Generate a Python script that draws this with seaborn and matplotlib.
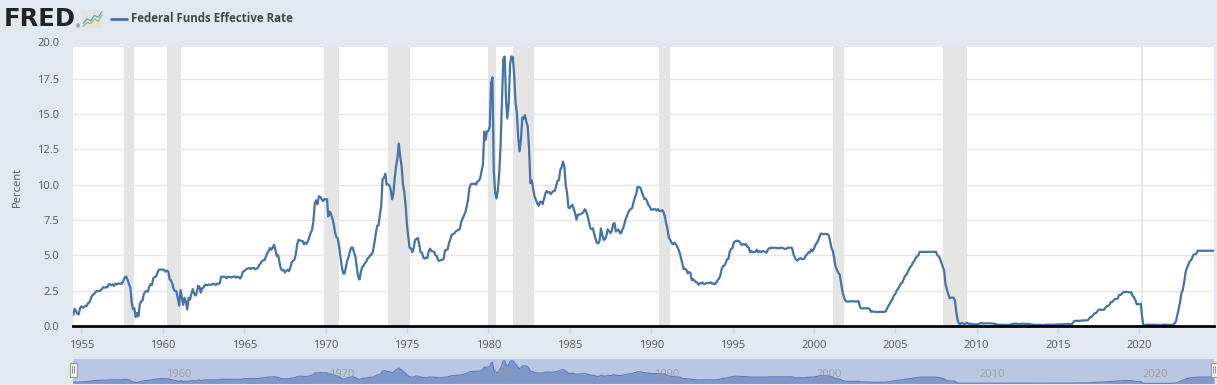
import matplotlib
matplotlib.use("Agg")
import matplotlib.pyplot as plt
import matplotlib.dates as mdates
import matplotlib.transforms as mtransforms
from matplotlib.lines import Line2D
from matplotlib.patches import Rectangle
import seaborn as sns
import pandas as pd

# monthly effective federal funds rate, percent (Jul 1954 - Aug 2024)
rates_1950s = [0.80, 1.22, 1.07, 0.85, 0.83, 1.28,
               1.39, 1.29, 1.35, 1.43, 1.43, 1.64, 1.68, 1.96, 2.18, 2.24, 2.35, 2.48,
               2.45, 2.50, 2.50, 2.62, 2.75, 2.71, 2.75, 2.73, 2.95, 2.96, 2.88, 2.94,
               2.84, 3.00, 2.96, 3.00, 3.00, 3.00, 2.99, 3.24, 3.47, 3.50, 3.28, 2.98,
               2.72, 1.67, 1.20, 1.26, 0.63, 0.93, 0.68, 1.53, 1.76, 1.80, 2.27, 2.42,
               2.48, 2.43, 2.80, 2.96, 2.90, 3.39, 3.47, 3.50, 3.76, 3.98, 4.00, 3.99]
rates_1960s = [3.99, 3.97, 3.84, 3.92, 3.85, 3.32, 3.23, 2.98, 2.60, 2.47, 2.44, 1.98,
               1.45, 2.54, 2.02, 1.49, 1.98, 1.73, 1.17, 2.00, 1.88, 2.26, 2.61, 2.33,
               2.15, 2.37, 2.85, 2.78, 2.36, 2.68, 2.71, 2.93, 2.90, 2.90, 2.94, 2.93,
               2.92, 3.00, 2.98, 2.90, 3.00, 2.99, 3.02, 3.49, 3.48, 3.50, 3.48, 3.38,
               3.48, 3.48, 3.43, 3.47, 3.50, 3.50, 3.42, 3.50, 3.45, 3.36, 3.52, 3.85,
               3.90, 3.98, 4.04, 4.09, 4.10, 4.04, 4.09, 4.12, 4.01, 4.08, 4.10, 4.32,
               4.42, 4.60, 4.65, 4.67, 4.90, 5.17, 5.30, 5.53, 5.40, 5.53, 5.76, 5.40,
               4.94, 5.00, 4.53, 4.05, 3.94, 3.98, 3.79, 3.90, 3.99, 3.88, 4.13, 4.51,
               4.61, 4.71, 5.05, 5.76, 6.11, 6.07, 6.02, 6.03, 5.78, 5.91, 5.82, 6.02,
               6.30, 6.61, 6.79, 7.41, 8.67, 8.90, 8.61, 9.19, 9.15, 9.00, 8.85, 8.97]
rates_1970s = [8.98, 8.98, 7.76, 8.10, 7.95, 7.61, 7.21, 6.61, 6.29, 6.20, 5.60, 4.90,
               4.14, 3.72, 3.71, 4.16, 4.63, 4.91, 5.31, 5.56, 5.55, 5.20, 4.91, 4.14,
               3.50, 3.29, 3.83, 4.17, 4.27, 4.46, 4.55, 4.80, 4.87, 5.04, 5.06, 5.33,
               5.94, 6.58, 7.09, 7.12, 7.84, 8.49, 10.40, 10.50, 10.78, 10.01, 10.03, 9.95,
               9.65, 8.97, 9.35, 10.51, 11.31, 11.93, 12.92, 12.01, 11.34, 10.06, 9.45, 8.53,
               7.13, 6.24, 5.54, 5.49, 5.22, 5.55, 6.10, 6.14, 6.24, 5.82, 5.22, 5.20,
               4.87, 4.77, 4.84, 4.82, 5.29, 5.48, 5.31, 5.29, 5.25, 5.02, 4.95, 4.65,
               4.61, 4.68, 4.69, 4.73, 5.35, 5.39, 5.42, 5.90, 6.14, 6.47, 6.51, 6.56,
               6.70, 6.78, 6.79, 6.89, 7.36, 7.60, 7.81, 8.04, 8.45, 8.96, 9.76, 10.03,
               10.07, 10.06, 10.09, 10.01, 10.24, 10.29, 10.47, 10.94, 11.43, 13.77, 13.18, 13.78]
rates_1980s = [13.82, 14.13, 17.19, 17.61, 10.98, 9.47, 9.03, 9.61, 10.87, 12.81, 15.85, 18.90,
               19.08, 15.93, 14.70, 15.72, 18.52, 19.10, 19.04, 17.82, 15.87, 15.08, 13.31, 12.37,
               13.22, 14.78, 14.68, 14.94, 14.45, 14.15, 12.59, 10.12, 10.31, 9.71, 9.20, 8.95,
               8.68, 8.51, 8.77, 8.80, 8.63, 8.98, 9.37, 9.56, 9.45, 9.48, 9.34, 9.47,
               9.56, 9.59, 9.91, 10.29, 10.32, 11.06, 11.23, 11.64, 11.30, 9.99, 9.43, 8.38,
               8.35, 8.50, 8.58, 8.27, 7.97, 7.53, 7.88, 7.90, 7.92, 7.99, 8.05, 8.27,
               8.14, 7.86, 7.48, 6.99, 6.85, 6.92, 6.56, 6.17, 5.89, 5.85, 6.04, 6.91,
               6.43, 6.10, 6.13, 6.37, 6.85, 6.73, 6.58, 6.73, 7.22, 7.29, 6.69, 6.77,
               6.83, 6.58, 6.58, 6.87, 7.09, 7.51, 7.75, 8.01, 8.19, 8.30, 8.35, 8.76,
               9.12, 9.36, 9.85, 9.84, 9.81, 9.53, 9.24, 8.99, 9.02, 8.84, 8.55, 8.45]
rates_1990s = [8.23, 8.24, 8.28, 8.26, 8.18, 8.29, 8.15, 8.13, 8.20, 8.11, 7.81, 7.31,
               6.91, 6.25, 6.12, 5.91, 5.78, 5.90, 5.82, 5.66, 5.45, 5.21, 4.81, 4.43,
               4.03, 4.06, 3.98, 3.73, 3.82, 3.76, 3.25, 3.30, 3.22, 3.10, 3.09, 2.92,
               3.02, 3.03, 3.07, 2.96, 3.00, 3.04, 3.06, 3.03, 3.09, 2.99, 3.02, 2.96,
               3.05, 3.25, 3.34, 3.56, 4.01, 4.25, 4.26, 4.47, 4.73, 4.76, 5.29, 5.45,
               5.53, 5.92, 5.98, 6.05, 6.01, 6.00, 5.85, 5.74, 5.80, 5.76, 5.80, 5.60,
               5.56, 5.22, 5.31, 5.22, 5.24, 5.27, 5.40, 5.22, 5.30, 5.24, 5.31, 5.29,
               5.25, 5.19, 5.39, 5.51, 5.50, 5.56, 5.52, 5.54, 5.54, 5.50, 5.52, 5.50,
               5.56, 5.51, 5.49, 5.45, 5.49, 5.56, 5.54, 5.55, 5.51, 5.07, 4.83, 4.68,
               4.63, 4.76, 4.81, 4.74, 4.74, 4.76, 4.99, 5.07, 5.22, 5.20, 5.42, 5.30]
rates_2000s = [5.45, 5.73, 5.85, 6.02, 6.27, 6.53, 6.54, 6.50, 6.52, 6.51, 6.51, 6.40,
               5.98, 5.49, 5.31, 4.80, 4.21, 3.97, 3.77, 3.65, 3.07, 2.49, 2.09, 1.82,
               1.73, 1.74, 1.73, 1.75, 1.75, 1.75, 1.73, 1.74, 1.75, 1.75, 1.34, 1.24,
               1.24, 1.26, 1.25, 1.26, 1.26, 1.22, 1.01, 1.03, 1.01, 1.01, 1.00, 0.98,
               1.00, 1.01, 1.00, 1.00, 1.00, 1.03, 1.26, 1.43, 1.61, 1.76, 1.93, 2.16,
               2.28, 2.50, 2.63, 2.79, 3.00, 3.04, 3.26, 3.50, 3.62, 3.78, 4.00, 4.16,
               4.29, 4.49, 4.59, 4.79, 4.94, 4.99, 5.24, 5.25, 5.25, 5.25, 5.25, 5.24,
               5.25, 5.26, 5.26, 5.25, 5.25, 5.25, 5.26, 5.02, 4.94, 4.76, 4.49, 4.24,
               3.94, 2.98, 2.61, 2.28, 1.98, 2.00, 2.01, 2.00, 1.81, 0.97, 0.39, 0.16,
               0.15, 0.22, 0.18, 0.15, 0.18, 0.21, 0.16, 0.16, 0.15, 0.12, 0.12, 0.12]
rates_2010s = [0.11, 0.13, 0.16, 0.20, 0.20, 0.18, 0.18, 0.19, 0.19, 0.19, 0.19, 0.18,
               0.17, 0.16, 0.14, 0.10, 0.09, 0.09, 0.07, 0.10, 0.08, 0.07, 0.08, 0.07,
               0.08, 0.10, 0.13, 0.14, 0.16, 0.16, 0.16, 0.13, 0.14, 0.16, 0.16, 0.16,
               0.14, 0.15, 0.14, 0.15, 0.11, 0.09, 0.09, 0.08, 0.08, 0.09, 0.08, 0.09,
               0.07, 0.07, 0.08, 0.09, 0.09, 0.10, 0.09, 0.09, 0.09, 0.09, 0.09, 0.12,
               0.11, 0.11, 0.11, 0.12, 0.12, 0.13, 0.13, 0.14, 0.14, 0.12, 0.12, 0.24,
               0.34, 0.38, 0.36, 0.37, 0.37, 0.38, 0.39, 0.40, 0.40, 0.40, 0.41, 0.54,
               0.65, 0.66, 0.79, 0.90, 0.91, 1.04, 1.15, 1.16, 1.15, 1.15, 1.16, 1.30,
               1.41, 1.42, 1.51, 1.69, 1.70, 1.82, 1.91, 1.91, 1.95, 2.19, 2.20, 2.27,
               2.40, 2.40, 2.41, 2.42, 2.39, 2.38, 2.40, 2.13, 2.04, 1.83, 1.55, 1.55]
rates_2020s = [1.55, 1.58, 0.65, 0.05, 0.05, 0.08, 0.09, 0.10, 0.09, 0.09, 0.09, 0.09,
               0.09, 0.08, 0.07, 0.07, 0.06, 0.08, 0.10, 0.09, 0.08, 0.08, 0.08, 0.08,
               0.08, 0.08, 0.20, 0.33, 0.77, 1.21, 1.68, 2.33, 2.56, 3.08, 3.78, 4.10,
               4.33, 4.57, 4.65, 4.83, 5.06, 5.08, 5.12, 5.33, 5.33, 5.33, 5.33, 5.33,
               5.33, 5.33, 5.33, 5.33, 5.33, 5.33, 5.33, 5.33]

# NBER recessions (peak month, trough month)
recessions = [("1957-08-01", "1958-04-01"), ("1960-04-01", "1961-02-01"),
              ("1969-12-01", "1970-11-01"), ("1973-11-01", "1975-03-01"),
              ("1980-01-01", "1980-07-01"), ("1981-07-01", "1982-11-01"),
              ("1990-07-01", "1991-03-01"), ("2001-03-01", "2001-11-01"),
              ("2007-12-01", "2009-06-01"), ("2020-02-01", "2020-04-01")]

y_ticks = [0, 2.5, 5, 7.5, 10, 12.5, 15, 17.5]
x_years = list(range(1955, 2021, 5))
nav_years = list(range(1960, 2021, 10))

rates = (rates_1950s + rates_1960s + rates_1970s + rates_1980s +
         rates_1990s + rates_2000s + rates_2010s + rates_2020s)
dates = pd.date_range("1954-07-01", periods=len(rates), freq="MS")
df = pd.DataFrame({"date": dates, "rate": rates})

bg = "#e1e9f0"
line_c = "#4572a7"
txt_c = "#555555"

sns.set_theme(style="white")
plt.rcParams['font.family'] = ['Open Sans', 'DejaVu Sans']

W, H = 1217, 385
fig = plt.figure(figsize=(W / 100, H / 100), dpi=100, facecolor=bg)

# main plot area
x0, x1 = 73.3, 1214
ytop, ybot = 46.7, 326
ax = fig.add_axes([x0 / W, 1 - ybot / H, (x1 - x0) / W, (ybot - ytop) / H])
ax.set_facecolor("white")

for start, end in recessions:
    ax.axvspan(pd.Timestamp(start), pd.Timestamp(end), color="#e4e4e4", lw=0, zorder=1)

sns.lineplot(data=df, x="date", y="rate", ax=ax, color=line_c, lw=1.6, zorder=3)

ax.set_xlim(dates[0], dates[-1])
ax.set_ylim(0, 19.78)
ax.set_yticks(y_ticks)
ax.set_yticklabels([f"{v:.1f}" for v in y_ticks])
ytrans = mtransforms.blended_transform_factory(ax.transAxes, ax.transData)
ax.text(-14 / (x1 - x0), 20.0, "20.0", transform=ytrans,
        ha="right", va="center", fontsize=8, color=txt_c, clip_on=False)
ax.grid(axis="y", color="#e6e6e6", lw=1, zorder=0)
ax.set_axisbelow(True)

ax.set_xticks([pd.Timestamp(f"{y}-01-01") for y in x_years])
ax.xaxis.set_major_formatter(mdates.DateFormatter("%Y"))
ax.tick_params(axis="x", length=6, width=1, color="#ccd6eb", pad=4, labelsize=8, labelcolor=txt_c, bottom=True)
ax.tick_params(axis="y", length=0, pad=10, labelsize=8, labelcolor=txt_c)

for s in ["top", "right", "left"]:
    ax.spines[s].set_visible(False)
ax.spines["bottom"].set_color("black")
ax.spines["bottom"].set_linewidth(2)
ax.spines["bottom"].set_zorder(5)
ax.set_xlabel(None)
ax.set_ylabel(None)

fig.text(17 / W, 1 - 187 / H, "Percent", rotation=90, ha="center", va="center", fontsize=8, color=txt_c)

# header: logo and legend
fig.text(4 / W, 1 - 18.5 / H, "FRED", fontsize=17.5, weight="heavy", family="DejaVu Sans",
         color="#222222", ha="left", va="center")
fig.text(77.5 / W, 1 - 27 / H, "®", fontsize=3.5, color="#222222", ha="center", va="center")
icon = fig.add_axes([82 / W, 1 - 28 / H, 21 / W, 18 / H])
icon.set_facecolor("#e2e2e2")
icon.plot([0, 1, 2, 3, 4, 5], [1, 2, 1.6, 2.8, 2.4, 3.6], color="#6e9bd1", lw=0.9)
icon.plot([0, 1, 2, 3, 4, 5], [0.4, 1.2, 1.0, 2.0, 1.5, 2.9], color="#8dc63f", lw=0.9)
icon.set_xlim(-0.3, 5.3)
icon.set_ylim(0, 4)
icon.set_xticks([])
icon.set_yticks([])
for s in icon.spines.values():
    s.set_visible(False)

fig.add_artist(Line2D([111 / W, 127 / W], [1 - 19 / H, 1 - 19 / H], color=line_c, lw=2))
fig.text(131 / W, 1 - 19 / H, "Federal Funds Effective Rate", fontsize=8.3, weight="bold",
         color="#444444", ha="left", va="center")

# navigator
ny0, ny1 = 359, 384
nav = fig.add_axes([x0 / W, 1 - ny1 / H, (x1 - x0) / W, (ny1 - ny0) / H])
nav.set_facecolor("#b9c7e3")
nav.fill_between(df["date"], df["rate"], color="#7f98ca", lw=0)
sns.lineplot(data=df, x="date", y="rate", ax=nav, color="#5a7bbd", lw=0.8)
nav.set_xlim(dates[0], dates[-1])
nav.set_ylim(-0.5, 20.5)
nav.set_xticks([])
nav.set_yticks([])
nav.set_xlabel(None)
nav.set_ylabel(None)
for s in nav.spines.values():
    s.set_visible(False)
off = mtransforms.offset_copy(nav.transData, fig=fig, x=3, y=0, units="dots")
lab_trans = mtransforms.blended_transform_factory(off, nav.transAxes)
for y in nav_years:
    nav.text(pd.Timestamp(f"{y}-01-01"), 0.38, str(y), transform=lab_trans,
             ha="left", va="center", fontsize=8, color="#999999", alpha=0.9, zorder=5)

for hx in [69.5, 1210.5]:
    fig.add_artist(Rectangle((hx / W, 1 - 377 / H), 7 / W, 14 / H, facecolor="#f2f2f2",
                             edgecolor="#999999", lw=0.8))
    for dx in [2.5, 4.5]:
        fig.add_artist(Line2D([(hx + dx) / W] * 2, [1 - 373 / H, 1 - 366 / H], color="#999999", lw=0.7))

fig.savefig("out.png", dpi=100, facecolor=bg)
